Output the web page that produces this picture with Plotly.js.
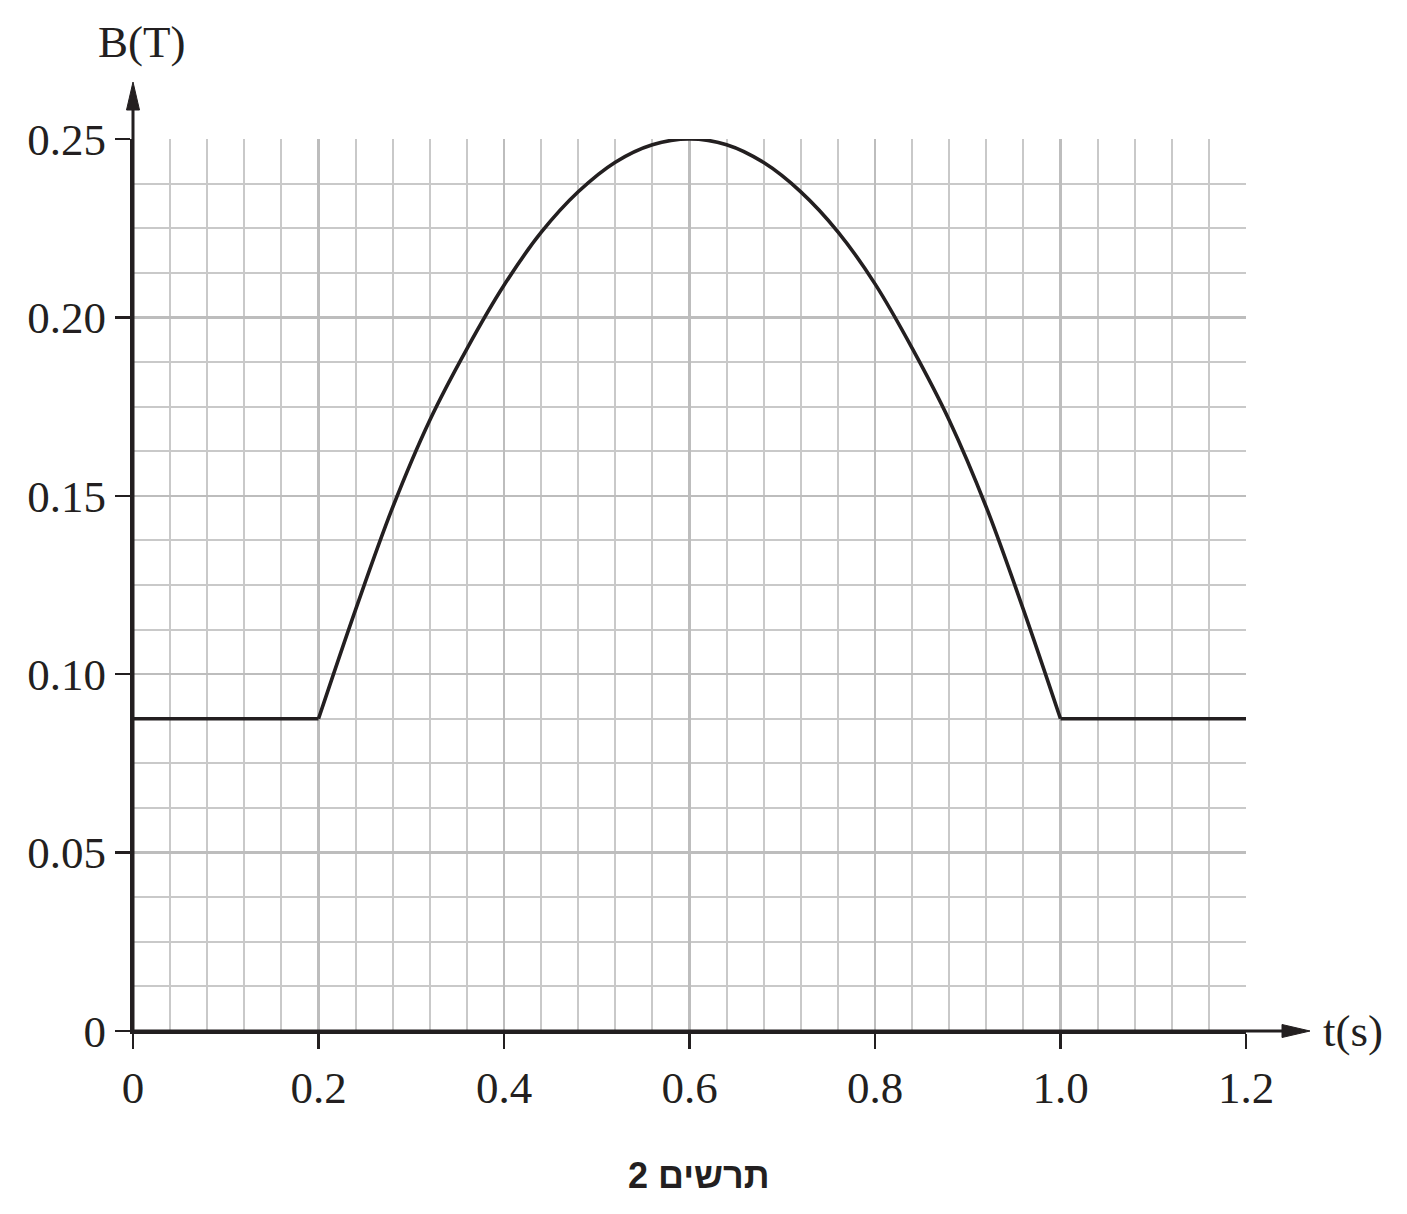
<!DOCTYPE html>
<html>
<head>
<meta charset="utf-8">
<script src="https://cdn.plot.ly/plotly-3.0.1.min.js"></script>
<style>
  html, body { margin: 0; padding: 0; background: #fff; }
  #chart { width: 1407px; height: 1214px; }
</style>
</head>
<body>
<div id="chart"></div>
<script>
// values
var tLeft = [0, 0.2];
var bLeft = [0.0875, 0.0875];

var tCurve = [0.2, 0.24, 0.28, 0.32, 0.36, 0.40, 0.44, 0.48, 0.52, 0.56, 0.60,
              0.64, 0.68, 0.72, 0.76, 0.80, 0.84, 0.88, 0.92, 0.96, 1.0];
var bCurve = [0.0875, 0.1181, 0.1468, 0.1712, 0.1912, 0.2090, 0.2238, 0.2352, 0.2435, 0.2484, 0.25,
              0.2484, 0.2434, 0.2352, 0.2240, 0.2094, 0.1914, 0.1712, 0.1468, 0.1181, 0.0875];

var tRight = [1.0, 1.2];
var bRight = [0.0875, 0.0875];

var xTickVals = [0, 0.2, 0.4, 0.6, 0.8, 1.0, 1.2];
var xTickText = ['0', '0.2', '0.4', '0.6', '0.8', '1.0', '1.2'];
var yTickVals = [0, 0.05, 0.10, 0.15, 0.20, 0.25];
var yTickText = ['0', '0.05', '0.10', '0.15', '0.20', '0.25'];

var ink = '#231f20';
var serif = 'Liberation Serif, Times New Roman, serif';

var lineStyle = { color: ink, width: 3.6 };

var data = [
  { x: tLeft, y: bLeft, type: 'scatter', mode: 'lines', line: lineStyle, hoverinfo: 'skip' },
  { x: tCurve, y: bCurve, type: 'scatter', mode: 'lines',
    line: { color: ink, width: 3.6, shape: 'spline', smoothing: 1, simplify: false }, hoverinfo: 'skip' },
  { x: tRight, y: bRight, type: 'scatter', mode: 'lines', line: lineStyle, hoverinfo: 'skip' }
];

// arrow geometry in paper units (plot area 1113 x 892 px)
var pw = 1113, ph = 892;
var yTip = 1 + 57 / ph, yBase = 1 + 29 / ph, yHalf = 6.5 / pw;
var xTip = 1177 / pw, xBase = 1149 / pw, xHalf = 6.5 / ph;

var layout = {
  width: 1407,
  height: 1214,
  margin: { l: 133, r: 161, t: 139, b: 183 },
  paper_bgcolor: '#fff',
  plot_bgcolor: '#fff',
  showlegend: false,
  xaxis: {
    range: [0, 1.2],
    tickvals: xTickVals,
    ticktext: xTickText,
    tickfont: { family: serif, size: 45, color: ink },
    ticks: 'outside',
    ticklen: 15,
    tickwidth: 2.5,
    tickcolor: ink,
    showline: true,
    linecolor: ink,
    linewidth: 3,
    showgrid: true,
    gridcolor: '#bdbdbd',
    gridwidth: 2.5,
    zeroline: false,
    minor: { dtick: 0.04, tick0: 0, showgrid: true, gridcolor: '#c9c9c9', gridwidth: 2 },
    fixedrange: true
  },
  yaxis: {
    range: [0, 0.25],
    tickvals: yTickVals,
    ticktext: yTickText,
    tickfont: { family: serif, size: 45, color: ink },
    ticks: 'outside',
    ticklen: 15,
    tickwidth: 2.5,
    tickcolor: ink,
    showline: true,
    linecolor: ink,
    linewidth: 3,
    showgrid: true,
    gridcolor: '#bdbdbd',
    gridwidth: 2.5,
    zeroline: false,
    minor: { dtick: 0.0125, tick0: 0, showgrid: true, gridcolor: '#c9c9c9', gridwidth: 2 },
    fixedrange: true
  },
  shapes: [
    { type: 'line', xref: 'paper', yref: 'paper', x0: 0, y0: 0, x1: 0, y1: yBase + 0.005,
      line: { color: ink, width: 3 } },
    { type: 'path', xref: 'paper', yref: 'paper',
      path: 'M ' + (-yHalf) + ' ' + yBase + ' L 0 ' + yTip + ' L ' + yHalf + ' ' + yBase + ' Z',
      fillcolor: ink, line: { color: ink, width: 1 } },
    { type: 'line', xref: 'paper', yref: 'paper', x0: 0, y0: 0, x1: xBase + 0.005, y1: 0,
      line: { color: ink, width: 3 } },
    { type: 'path', xref: 'paper', yref: 'paper',
      path: 'M ' + xBase + ' ' + (-xHalf) + ' L ' + xTip + ' 0 L ' + xBase + ' ' + xHalf + ' Z',
      fillcolor: ink, line: { color: ink, width: 1 } }
  ],
  annotations: [
    { xref: 'paper', yref: 'paper', x: 8 / pw, y: 1 + 97 / ph, xanchor: 'center', yanchor: 'middle',
      text: 'B(T)', showarrow: false, font: { family: serif, size: 45, color: ink } },
    { xref: 'paper', yref: 'paper', x: 1188 / pw, y: 0, xanchor: 'left', yanchor: 'middle',
      text: 't(s)', showarrow: false, font: { family: serif, size: 45, color: ink } },
    { xref: 'paper', yref: 'paper', x: 566 / pw, y: -144 / ph, xanchor: 'center', yanchor: 'middle',
      text: '<b>תרשים 2</b>', showarrow: false,
      font: { family: 'Liberation Sans, DejaVu Sans, sans-serif', size: 36, color: ink } }
  ]
};

Plotly.newPlot('chart', data, layout, { staticPlot: true, displayModeBar: false });
</script>
</body>
</html>
